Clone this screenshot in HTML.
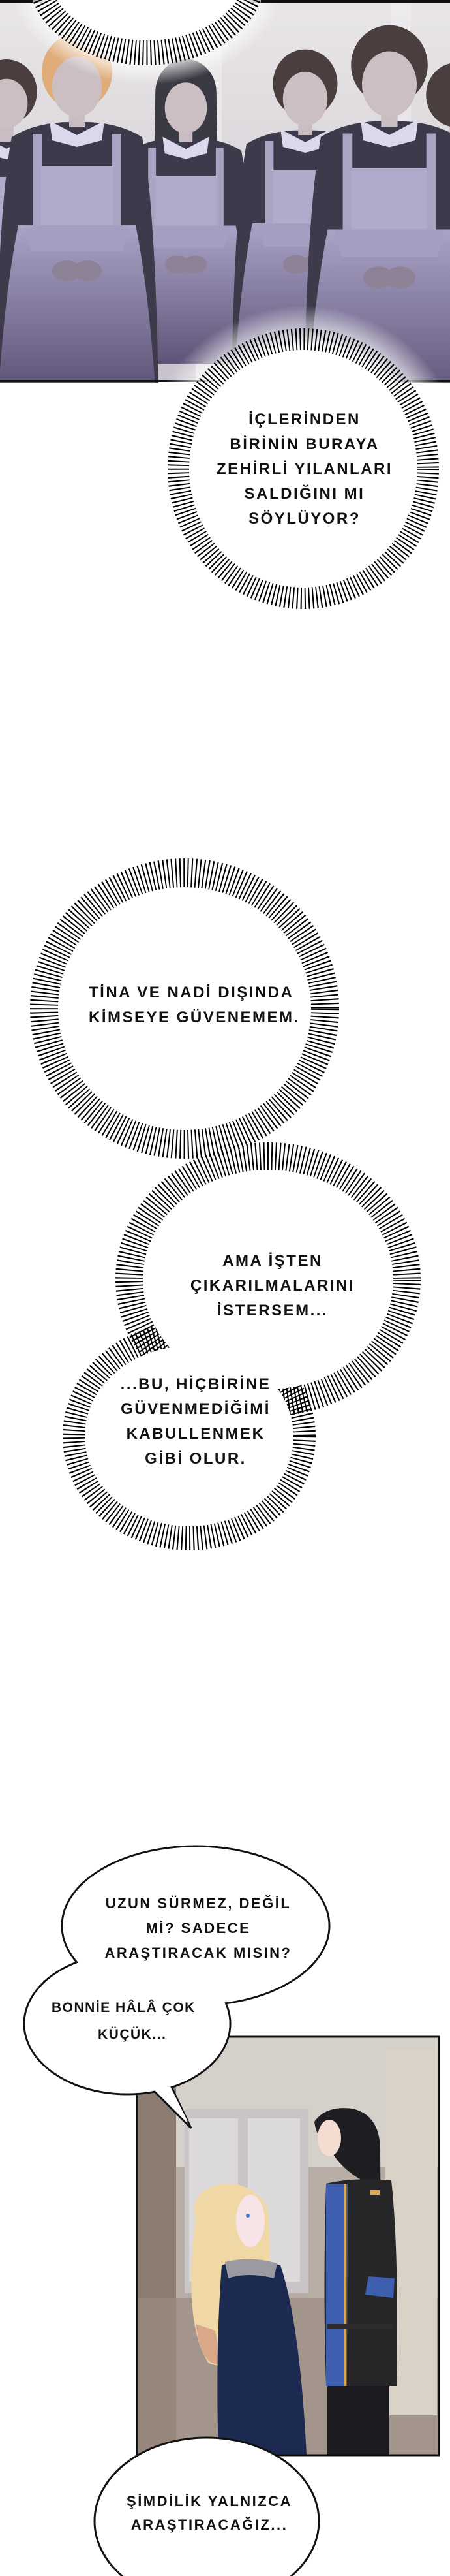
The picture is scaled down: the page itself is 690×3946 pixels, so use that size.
<!DOCTYPE html>
<html><head><meta charset="utf-8"><style>
html,body{margin:0;padding:0;background:#fff}
body{width:690px;height:3946px;position:relative;overflow:hidden}
svg{position:absolute;left:0;top:0}
.t{position:absolute;font-family:"Liberation Sans",sans-serif;font-weight:bold;font-size:24px;line-height:38px;color:#111;text-align:center;letter-spacing:2.5px;white-space:nowrap}
</style></head><body>
<svg width="690" height="3946" viewBox="0 0 690 3946">
<defs>
<linearGradient id="bg1" x1="0" y1="0" x2="0" y2="1"><stop offset="0" stop-color="#e9e6e8"/><stop offset="0.5" stop-color="#d9d5da"/><stop offset="1" stop-color="#c8c2cc"/></linearGradient>
<linearGradient id="skirt" x1="0" y1="0" x2="0" y2="1"><stop offset="0" stop-color="#a9a3c6"/><stop offset="1" stop-color="#5f5478"/></linearGradient>
<radialGradient id="glow"><stop offset="0.75" stop-color="#fff" stop-opacity="1"/><stop offset="1" stop-color="#fff" stop-opacity="0"/></radialGradient>
<g id="maid">
<path d="M-100,95 Q-120,200 -125,480 L125,480 Q120,200 100,95 Q60,70 0,72 Q-60,70 -100,95Z" fill="#3d3b4b"/>
<path d="M-90,230 Q-110,330 -120,480 L120,480 Q110,330 90,230Z" fill="url(#skirt)"/>
<rect x="-68" y="90" width="14" height="150" fill="#aaa4c4"/><rect x="54" y="90" width="14" height="150" fill="#aaa4c4"/>
<rect x="-55" y="140" width="110" height="90" fill="#b0aacb"/>
<path d="M-80,230 L80,230 L70,270 L-70,270Z" fill="#a49ec0"/>
<path d="M-42,70 L0,92 L42,70 L38,100 L0,110 L-38,100Z" fill="#dcd8ec"/>
<ellipse cx="-16" cy="300" rx="22" ry="16" fill="#8e8296"/><ellipse cx="16" cy="300" rx="22" ry="16" fill="#8e8296"/>
<rect x="-12" y="40" width="24" height="40" fill="#c9bcc2"/>
</g>
</defs>
<rect x="0" y="0" width="690" height="585" fill="url(#bg1)"/>
<rect x="300" y="0" width="40" height="585" fill="#f0eef0" opacity="0.6"/>
<rect x="600" y="0" width="30" height="585" fill="#eeecee" opacity="0.6"/>
<g transform="translate(10,145) scale(0.9)"><use href="#maid"/><ellipse cx="0" cy="-5" rx="52" ry="55" fill="#4a3e3e"/><ellipse cx="0" cy="15" rx="36" ry="42" fill="#cbbfc4"/></g>
<g transform="translate(700,150) scale(0.9)"><use href="#maid"/><ellipse cx="0" cy="-5" rx="52" ry="55" fill="#4a3e3e"/></g>
<g transform="translate(285,150) scale(0.85)"><path d="M-55,-10 L-58,150 L58,150 L55,-10Z" fill="#3a3a44"/><use href="#maid"/><ellipse cx="0" cy="-10" rx="55" ry="60" fill="#3a3a44"/><ellipse cx="0" cy="18" rx="38" ry="46" fill="#cbbfc4"/></g>
<g transform="translate(468,135) scale(0.9)"><use href="#maid"/><ellipse cx="0" cy="-8" rx="55" ry="58" fill="#4a3e3e"/><ellipse cx="0" cy="18" rx="38" ry="46" fill="#cbbfc4"/></g>
<g transform="translate(118,115)"><use href="#maid"/><ellipse cx="0" cy="-5" rx="54" ry="58" fill="#e0ac78"/><ellipse cx="0" cy="18" rx="38" ry="46" fill="#cbbfc4"/></g>
<g transform="translate(597,110) scale(1.05)"><use href="#maid"/><ellipse cx="0" cy="-10" rx="56" ry="58" fill="#4a3e3e"/><ellipse cx="0" cy="18" rx="40" ry="48" fill="#cbbfc4"/></g>
<rect x="0" y="0" width="690" height="4" fill="#111"/>
<rect x="0" y="582" width="690" height="3" fill="#111"/>
<ellipse cx="225" cy="-40" rx="215" ry="170" fill="url(#glow)"/>
<ellipse cx="225" cy="-40" rx="163" ry="120" fill="none" stroke="#000" stroke-width="40" stroke-dasharray="2 4"/>
<ellipse cx="225" cy="-40" rx="150" ry="102" fill="#fff"/>
<rect x="0" y="0" width="50" height="4" fill="#111"/><rect x="400" y="0" width="290" height="4" fill="#111"/>
<rect x="0" y="586" width="690" height="400" fill="#fff"/>
<ellipse cx="465" cy="718" rx="250" ry="250" fill="url(#glow)"/>
<ellipse cx="465" cy="718" rx="190" ry="197" fill="none" stroke="#000" stroke-width="36" stroke-dasharray="2 4"/>
<ellipse cx="465" cy="718" rx="175" ry="182" fill="#fff"/>
<ellipse cx="283" cy="1545" rx="214" ry="207" fill="none" stroke="#000" stroke-width="46" stroke-dasharray="2 4"/>
<ellipse cx="283" cy="1545" rx="194" ry="186" fill="#fff"/>
<ellipse cx="411" cy="1960" rx="212" ry="188" fill="none" stroke="#000" stroke-width="44" stroke-dasharray="2 4"/>
<ellipse cx="290" cy="2200" rx="175" ry="156" fill="none" stroke="#000" stroke-width="38" stroke-dasharray="2 4"/>
<ellipse cx="411" cy="1960" rx="192" ry="168" fill="#fff"/>
<ellipse cx="290" cy="2200" rx="160" ry="138" fill="#fff"/>
<rect x="210" y="3120" width="463" height="641" fill="#b9aea6"/>
<rect x="210" y="3120" width="463" height="200" fill="#d6d0ca"/>
<rect x="283" y="3230" width="190" height="283" fill="#c9c5c6"/>
<rect x="290" y="3245" width="75" height="250" fill="#dcd9da"/>
<rect x="380" y="3245" width="80" height="250" fill="#dcd9da"/>
<rect x="210" y="3180" width="60" height="580" fill="#8c7c72"/>
<rect x="210" y="3520" width="463" height="241" fill="#9a8a80" opacity="0.7"/>
<rect x="590" y="3140" width="80" height="560" fill="#d9d2c6"/>
<path d="M300,3400 Q290,3360 330,3348 Q380,3335 410,3380 Q420,3470 400,3560 Q370,3640 320,3620 Q280,3560 300,3400Z" fill="#f0d7a6"/>
<path d="M300,3560 Q310,3630 340,3620 L330,3570Z" fill="#d9a888"/>
<ellipse cx="384" cy="3402" rx="22" ry="40" fill="#f6e4e6"/>
<path d="M340,3470 Q380,3455 430,3470 Q460,3560 470,3761 L335,3761 Q330,3600 340,3470Z" fill="#1c2a52"/>
<path d="M345,3465 Q385,3455 425,3467 L420,3490 Q380,3480 350,3490Z" fill="#9a9aa0"/>
<circle cx="380" cy="3394" r="3" fill="#3c7ac8"/>
<path d="M482,3250 Q500,3225 540,3230 Q585,3240 583,3300 L585,3535 L560,3535 L555,3340 Q520,3320 505,3290 Q485,3275 482,3250Z" fill="#1d1d22"/>
<ellipse cx="505" cy="3275" rx="18" ry="28" fill="#f4dcd0"/>
<path d="M500,3345 Q540,3335 600,3340 Q612,3450 608,3655 L500,3655 Q495,3500 500,3345Z" fill="#262628"/>
<path d="M500,3345 L533,3345 L532,3655 L500,3655Z" fill="#3e5fb0"/>
<rect x="528" y="3345" width="3" height="310" fill="#d8a850"/>
<rect x="502" y="3560" width="100" height="8" fill="#2c2c2e"/>
<rect x="502" y="3655" width="95" height="106" fill="#1c1c20"/>
<path d="M565,3487 L605,3490 L603,3520 L560,3515Z" fill="#3e5fb0"/>
<rect x="568" y="3355" width="14" height="7" fill="#e2a850"/>
<rect x="210" y="3120" width="463" height="641" fill="none" stroke="#111" stroke-width="3"/>
<g stroke="#111" stroke-width="3">
<ellipse cx="300" cy="2950" rx="205" ry="122" fill="#fff"/>
<ellipse cx="195" cy="3100" rx="158" ry="108" fill="#fff"/>
<polygon points="228,3195 293,3260 262,3195" fill="#fff"/>
</g>
<ellipse cx="300" cy="2950" rx="203.5" ry="120.5" fill="#fff"/>
<ellipse cx="195" cy="3100" rx="156.5" ry="106.5" fill="#fff"/>
<polygon points="232,3190 288,3250 258,3190" fill="#fff"/>
<ellipse cx="317" cy="3862" rx="172" ry="128" fill="#fff" stroke="#111" stroke-width="3"/>
</svg>
<div class="t" style="left:317px;top:624px;width:300px">İÇLERİNDEN<br>BİRİNİN BURAYA<br>ZEHİRLİ YILANLARI<br>SALDIĞINI MI<br>SÖYLÜYOR?</div>
<div class="t" style="left:136px;top:1502px;width:300px">TİNA VE NADİ DIŞINDA<br>KİMSEYE GÜVENEMEM.</div>
<div class="t" style="left:268px;top:1913px;width:300px">AMA İŞTEN<br>ÇIKARILMALARINI<br>İSTERSEM...</div>
<div class="t" style="left:150px;top:2102px;width:300px">...BU, HİÇBİRİNE<br>GÜVENMEDİĞİMİ<br>KABULLENMEK<br>GİBİ OLUR.</div>
<div class="t" style="left:154px;top:2897px;width:300px;font-size:22px">UZUN SÜRMEZ, DEĞİL<br>Mİ? SADECE<br>ARAŞTIRACAK MISIN?</div>
<div class="t" style="left:79px;top:3055px;text-align:left;line-height:41px;font-size:21px;letter-spacing:1.5px">BONNİE HÂLÂ ÇOK<br><span style="padding-left:71px">KÜÇÜK...</span></div>
<div class="t" style="left:171px;top:3814px;width:300px;line-height:36px;font-size:22px">ŞİMDİLİK YALNIZCA<br>ARAŞTIRACAĞIZ...</div>
</body></html>
